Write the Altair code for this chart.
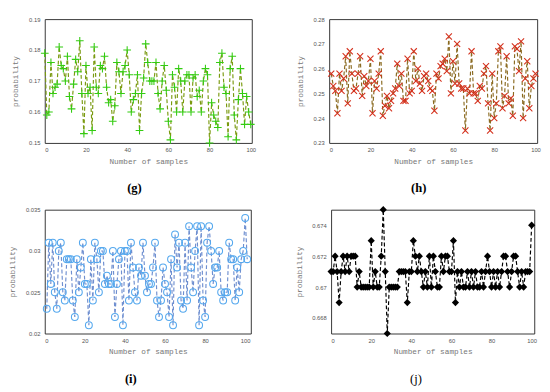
import altair as alt
import pandas as pd

# ---------------- data ----------------
g_vals = [0.179, 0.159, 0.160, 0.176, 0.166, 0.168, 0.169, 0.181, 0.175, 0.174,
          0.170, 0.178, 0.165, 0.161, 0.169, 0.177, 0.173, 0.183, 0.166, 0.153,
          0.175, 0.166, 0.168, 0.154, 0.181, 0.168, 0.166, 0.175, 0.174, 0.178,
          0.168, 0.163, 0.164, 0.157, 0.162, 0.176, 0.173, 0.166, 0.173, 0.175,
          0.180, 0.172, 0.160, 0.164, 0.166, 0.172, 0.154, 0.166, 0.171, 0.182,
          0.176, 0.170, 0.170, 0.170, 0.176, 0.166, 0.161, 0.170, 0.175, 0.167,
          0.157, 0.151, 0.172, 0.168, 0.160, 0.174, 0.170, 0.160, 0.170, 0.172,
          0.172, 0.160, 0.171, 0.172, 0.165, 0.167, 0.160, 0.170, 0.174, 0.172,
          0.150, 0.163, 0.159, 0.157, 0.155, 0.176, 0.179, 0.168, 0.166, 0.152,
          0.174, 0.178, 0.159, 0.151, 0.164, 0.174, 0.166, 0.156, 0.165, 0.160,
          0.156]
g_x = list(range(0, 101))

h_vals = [0.258, 0.253, 0.251, 0.242, 0.258, 0.251, 0.256, 0.265, 0.246, 0.267,
          0.258, 0.251, 0.252, 0.258, 0.265, 0.249, 0.257, 0.253, 0.255, 0.264,
          0.242, 0.255, 0.252, 0.258, 0.267, 0.241, 0.245, 0.249, 0.244, 0.247,
          0.250, 0.252, 0.262, 0.253, 0.258, 0.247, 0.247, 0.264, 0.250, 0.251,
          0.267, 0.255, 0.260, 0.254, 0.251, 0.257, 0.258, 0.255, 0.252, 0.251,
          0.243, 0.258, 0.256, 0.261, 0.262, 0.264, 0.259, 0.273, 0.250, 0.263,
          0.254, 0.270, 0.254, 0.252, 0.252, 0.235, 0.252, 0.250, 0.267, 0.250,
          0.250, 0.247, 0.253, 0.252, 0.258, 0.261, 0.246, 0.235, 0.258, 0.240,
          0.246, 0.267, 0.269, 0.244, 0.249, 0.265, 0.246, 0.248, 0.241, 0.269,
          0.268, 0.259, 0.271, 0.240, 0.256, 0.263, 0.244, 0.253, 0.256, 0.258]
h_x = list(range(1, 101))

i_vals = [0.023, 0.031, 0.026, 0.031, 0.025, 0.023, 0.030, 0.031, 0.025, 0.024,
          0.029, 0.029, 0.029, 0.024, 0.022, 0.029, 0.025, 0.028, 0.031, 0.026,
          0.026, 0.021, 0.029, 0.024, 0.031, 0.029, 0.025, 0.030, 0.030, 0.026,
          0.027, 0.026, 0.026, 0.030, 0.022, 0.026, 0.029, 0.030, 0.021, 0.030,
          0.030, 0.024, 0.031, 0.028, 0.025, 0.024, 0.028, 0.027, 0.031, 0.027,
          0.025, 0.026, 0.026, 0.028, 0.031, 0.024, 0.022, 0.024, 0.028, 0.026,
          0.025, 0.022, 0.029, 0.021, 0.032, 0.028, 0.031, 0.024, 0.023, 0.031,
          0.024, 0.033, 0.028, 0.025, 0.030, 0.033, 0.021, 0.033, 0.024, 0.022,
          0.031, 0.033, 0.030, 0.026, 0.028, 0.028, 0.030, 0.025, 0.024, 0.025,
          0.025, 0.031, 0.029, 0.029, 0.024, 0.028, 0.025, 0.029, 0.030, 0.034,
          0.029]
i_x = list(range(1, 102))

j_vals = [0.671, 0.671, 0.672, 0.671, 0.669, 0.671, 0.672, 0.671, 0.672, 0.671,
          0.672, 0.672, 0.672, 0.670, 0.671, 0.670, 0.670, 0.670, 0.670, 0.670,
          0.673, 0.670, 0.671, 0.670, 0.670, 0.672, 0.675, 0.671, 0.667, 0.670,
          0.670, 0.670, 0.670, 0.670, 0.671, 0.671, 0.671, 0.671, 0.669, 0.671,
          0.671, 0.673, 0.672, 0.671, 0.672, 0.671, 0.670, 0.671, 0.670, 0.672,
          0.670, 0.672, 0.671, 0.670, 0.670, 0.672, 0.671, 0.672, 0.672, 0.671,
          0.671, 0.673, 0.669, 0.671, 0.670, 0.671, 0.670, 0.670, 0.671, 0.670,
          0.671, 0.670, 0.671, 0.670, 0.670, 0.671, 0.670, 0.671, 0.672, 0.671,
          0.670, 0.671, 0.670, 0.671, 0.670, 0.671, 0.672, 0.672, 0.671, 0.670,
          0.671, 0.672, 0.672, 0.671, 0.670, 0.671, 0.670, 0.671, 0.671, 0.671,
          0.674]
j_x = list(range(0, 101))

x_ticks = [0, 20, 40, 60, 80, 100]
g_ticks = [0.15, 0.16, 0.17, 0.18, 0.19]
h_ticks = [0.23, 0.24, 0.25, 0.26, 0.27, 0.28]
i_ticks = [0.02, 0.025, 0.03, 0.035]
j_ticks = [0.668, 0.67, 0.672, 0.674]

PLUS = "M-1,0L1,0M0,-1L0,1"
XMARK = "M-1,-1L1,1M-1,1L1,-1"


def panel(xs, ys, xdom, ydom, yticks, label, bold, width, line_color,
          pt_color, shape, filled, size):
    df = pd.DataFrame({"x": xs, "y": ys})
    base = alt.Chart(df).encode(
        x=alt.X("x:Q",
                scale=alt.Scale(domain=xdom, nice=False, zero=False),
                axis=alt.Axis(values=x_ticks, title="Number of samples",
                              grid=False, domain=False, tickSize=0,
                              labelPadding=4, titlePadding=5)),
        y=alt.Y("y:Q",
                scale=alt.Scale(domain=ydom, nice=False, zero=False),
                axis=alt.Axis(values=yticks, format="~g", title="probability",
                              grid=False, domain=False, tickSize=0,
                              labelPadding=5, titlePadding=9)),
    )
    line = base.mark_line(strokeDash=[4, 2.5], color=line_color, strokeWidth=1.2)
    if filled:
        pts = base.mark_point(shape=shape, filled=True, color=pt_color,
                              size=size, opacity=1)
    else:
        pts = base.mark_point(shape=shape, filled=False, color=pt_color,
                              size=size, strokeWidth=1.1, opacity=1)
    return alt.layer(line, pts).properties(
        width=width, height=128,
        title=alt.TitleParams(label, orient="bottom", fontSize=13,
                              font="Liberation Serif", frame="bounds",
                              fontWeight="bold" if bold else "normal",
                              color="#000", offset=18))


pg = panel(g_x, g_vals, [0, 100.5], [0.15, 0.19], g_ticks, "(g)", True, 214,
           "#7a9a10", "#33cc11", PLUS, False, 64)
ph = panel(h_x, h_vals, [0, 100.8], [0.23, 0.28], h_ticks, "(h)", True, 215,
           "#8a6a20", "#d4301c", XMARK, False, 40)
pi = panel(i_x, i_vals, [0, 102.8], [0.02, 0.035], i_ticks, "(i)", True, 213,
           "#6f8fd0", "#55a8ee", "circle", False, 50)
pj = panel(j_x, j_vals, [0, 101.3], [0.667, 0.675], j_ticks, "(j)", False, 210,
           "#000000", "#000000", "diamond", True, 55)

row1 = alt.hconcat(pg, ph, spacing=39)
row2 = alt.hconcat(pi, pj, spacing=42)

chart = alt.vconcat(row1, row2, spacing=9).properties(
    padding={"left": 0, "top": 1, "right": 0, "bottom": 0},
    background="white"
).configure_view(
    stroke="#333333", strokeWidth=1
).configure_axis(
    labelFont="Liberation Sans", labelFontSize=6, labelColor="#555555",
    titleFont="Liberation Mono", titleFontSize=8, titleColor="#777777",
    titleFontWeight="normal"
)

chart.save("out.html", embed_options={"renderer": "svg", "actions": False})
